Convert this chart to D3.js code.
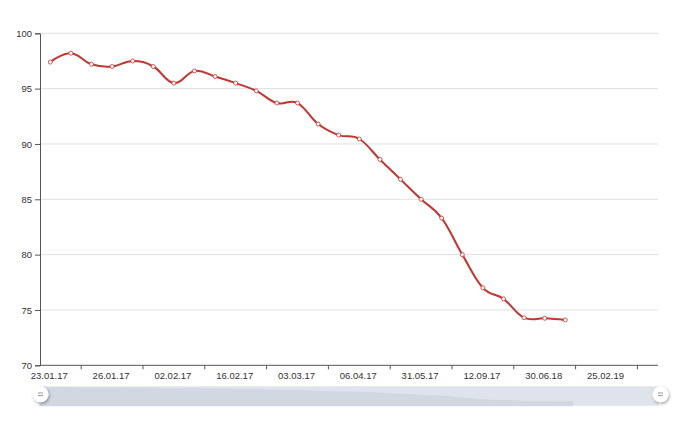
<!DOCTYPE html>
<html>
<head>
<meta charset="utf-8">
<script src="https://cdn.jsdelivr.net/npm/d3@7/dist/d3.min.js"></script>
<style>
  body { margin: 0; background: #fff; }
  text { font-family: "Liberation Sans", Arial, sans-serif; }
</style>
</head>
<body>
<script>
// categories on the x axis (only every 3rd one is labelled in the picture)
const dates = [
  "23.01.17", "24.01.17", "25.01.17", "26.01.17", "27.01.17", "30.01.17",
  "02.02.17", "06.02.17", "10.02.17", "16.02.17", "20.02.17", "24.02.17",
  "03.03.17", "13.03.17", "24.03.17", "06.04.17", "24.04.17", "12.05.17",
  "31.05.17", "05.07.17", "08.08.17", "12.09.17", "20.12.17", "25.03.18",
  "30.06.18", "15.09.18", "01.12.18", "25.02.19", "15.05.19", "01.08.19"
]

const values = [
  97.4, 98.2, 97.2, 97.0, 97.5, 97.0, 95.5, 96.6, 96.1, 95.5,
  94.8, 93.7, 93.7, 91.8, 90.8, 90.45, 88.6, 86.8, 85.0, 83.3,
  80.0, 77.0, 76.0, 74.3, 74.25, 74.1
]

const yTicks = [70, 75, 80, 85, 90, 95, 100]

const W = 680, H = 428
const gLeft = 40, gRight = 658, gTop = 33.3, gBottom = 365.3
const lineColor = "#c23531"

const svg = d3.select("body").append("svg")
  .attr("width", W)
  .attr("height", H)

const x = d3.scaleBand()
  .domain(dates)
  .range([gLeft, gRight])

const y = d3.scaleLinear()
  .domain([70, 100])
  .range([gBottom, gTop])

const cx = (d, i) => x(dates[i]) + x.bandwidth() / 2

// grid lines
svg.append("g")
  .selectAll("line")
  .data(yTicks.filter(t => t > 70))
  .enter()
  .append("line")
  .attr("x1", gLeft)
  .attr("x2", gRight)
  .attr("y1", d => y(d))
  .attr("y2", d => y(d))
  .attr("stroke", "#e0e0e0")
  .attr("stroke-width", 1)

// y axis
const yAxis = d3.axisLeft(y)
  .tickValues(yTicks)
  .tickSize(5)
  .tickPadding(3)

svg.append("g")
  .attr("transform", `translate(${gLeft},0)`)
  .call(yAxis)
  .call(g => g.select(".domain").attr("stroke", "#555"))
  .call(g => g.selectAll(".tick line").attr("stroke", "#555"))
  .call(g => g.selectAll("text")
    .attr("fill", "#333")
    .style("font-size", "9.5px")
    .style("font-family", "Liberation Sans, Arial, sans-serif"))

// x axis: ticks sit on band edges, labels at band centres
const xg = svg.append("g")
xg.append("line")
  .attr("x1", gLeft).attr("x2", gRight)
  .attr("y1", gBottom).attr("y2", gBottom)
  .attr("stroke", "#555")

const tickIdx = d3.range(2, dates.length, 3)
xg.selectAll("line.tk")
  .data(tickIdx)
  .enter()
  .append("line")
  .attr("class", "tk")
  .attr("x1", i => x(dates[i]))
  .attr("x2", i => x(dates[i]))
  .attr("y1", gBottom)
  .attr("y2", gBottom + 4)
  .attr("stroke", "#555")

const labelIdx = d3.range(0, dates.length, 3)
xg.selectAll("text")
  .data(labelIdx)
  .enter()
  .append("text")
  .attr("x", i => x(dates[i]) + x.bandwidth() / 2 - 1)
  .attr("y", gBottom + 14)
  .attr("text-anchor", "middle")
  .attr("fill", "#333")
  .style("font-size", "9.5px")
  .text(i => dates[i])

// the line
const line = d3.line()
  .x(cx)
  .y(d => y(d))
  .curve(d3.curveCardinal.tension(-0.2))

svg.append("path")
  .datum(values)
  .attr("d", line)
  .attr("fill", "none")
  .attr("stroke", lineColor)
  .attr("stroke-width", 2)

svg.append("g")
  .selectAll("circle")
  .data(values)
  .enter()
  .append("circle")
  .attr("cx", cx)
  .attr("cy", d => y(d))
  .attr("r", 2)
  .attr("fill", "#fff")
  .attr("stroke", lineColor)
  .attr("stroke-width", 0.8)

// dataZoom slider
const sTop = 386.5, sBot = 405.7
const sx = d3.scaleLinear()
  .domain([0, dates.length - 1])
  .range([gLeft, gRight])
const sy = d3.scaleLinear()
  .domain([d3.min(values) - 7, d3.max(values)])
  .range([sBot, sTop + 1])

svg.append("rect")
  .attr("x", gLeft)
  .attr("y", sTop)
  .attr("width", gRight - gLeft)
  .attr("height", sBot - sTop)
  .attr("fill", "#dfe4ec")
  .attr("stroke", "#e8ebf0")
  .attr("stroke-width", 1)

const area = d3.area()
  .x((d, i) => sx(i))
  .y0(sBot)
  .y1(d => sy(d))

svg.append("path")
  .datum(values)
  .attr("d", area)
  .attr("fill", "#d1d8e2")
  .attr("stroke", "#cbd2dc")
  .attr("stroke-width", 0.5)

const defs = svg.append("defs")
defs.append("filter")
  .attr("id", "hs")
  .attr("x", "-50%").attr("y", "-50%")
  .attr("width", "200%").attr("height", "200%")
  .append("feDropShadow")
  .attr("dx", 1).attr("dy", 1.5)
  .attr("stdDeviation", 1.5)
  .attr("flood-color", "#000")
  .attr("flood-opacity", 0.35)

const handles = svg.append("g")
  .selectAll("g")
  .data([gLeft + 0.5, gRight + 2.5])
  .enter()
  .append("g")
  .attr("transform", d => `translate(${d},394.3)`)

handles.append("circle")
  .attr("r", 8)
  .attr("fill", "#fff")
  .attr("filter", "url(#hs)")

handles.selectAll("line")
  .data([-1.3, 1.3])
  .enter()
  .append("line")
  .attr("x1", -2.5).attr("x2", 2.5)
  .attr("y1", d => d).attr("y2", d => d)
  .attr("stroke", "#999")
  .attr("stroke-width", 1)
</script>
</body>
</html>
